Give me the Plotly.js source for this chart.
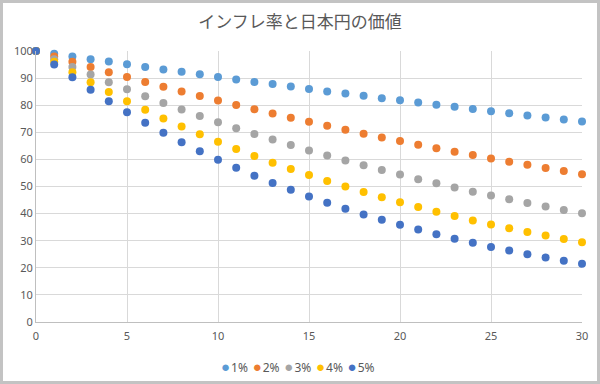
<!DOCTYPE html>
<html><head><meta charset="utf-8">
<script src="https://cdn.plot.ly/plotly-3.0.1.min.js"></script>
<style>
html,body{margin:0;padding:0;background:#c3c3c3;width:600px;height:384px;overflow:hidden}
#chart{position:absolute;left:3px;top:3px;width:594px;height:378px;background:#fff}
</style></head><body>
<div id="chart"></div>
<script>
const years = [0,1,2,3,4,5,6,7,8,9,10,11,12,13,14,15,16,17,18,19,20,21,22,23,24,25,26,27,28,29,30];
const seriesNames = ["1%","2%","3%","4%","5%"];
const r1 = [100,99.0,98.0,97.0,96.1,95.1,94.1,93.2,92.3,91.4,90.4,89.5,88.6,87.8,86.9,86.0,85.1,84.3,83.5,82.6,81.8,81.0,80.2,79.4,78.6,77.8,77.0,76.2,75.5,74.7,74.0];
const r2 = [100,98.0,96.0,94.1,92.2,90.4,88.6,86.8,85.1,83.4,81.7,80.1,78.5,76.9,75.4,73.9,72.4,70.9,69.5,68.1,66.8,65.4,64.1,62.8,61.6,60.3,59.1,58.0,56.8,55.7,54.5];
const r3 = [100,97.0,94.1,91.3,88.5,85.9,83.3,80.8,78.4,76.0,73.7,71.5,69.4,67.3,65.3,63.3,61.4,59.6,57.8,56.1,54.4,52.7,51.2,49.6,48.1,46.7,45.3,43.9,42.6,41.3,40.1];
const r4 = [100,96.0,92.2,88.5,84.9,81.5,78.3,75.1,72.1,69.3,66.5,63.8,61.3,58.8,56.5,54.2,52.0,50.0,48.0,46.0,44.2,42.4,40.7,39.1,37.5,36.0,34.6,33.2,31.9,30.6,29.4];
const r5 = [100,95.0,90.3,85.7,81.5,77.4,73.5,69.8,66.3,63.0,59.9,56.9,54.0,51.3,48.8,46.3,44.0,41.8,39.7,37.7,35.9,34.1,32.4,30.7,29.2,27.7,26.4,25.0,23.8,22.6,21.5];
const allSeries = [r1,r2,r3,r4,r5];
const colors = ["#5B9BD5","#ED7D31","#A5A5A5","#FFC000","#4472C4"];

const traces = allSeries.map((ys,i)=>({
  x: years, y: ys, name: seriesNames[i], type:'scatter', mode:'markers',
  marker:{size:8, color:colors[i]}, cliponaxis:false, showlegend:false
}));

const legendText = seriesNames.map((n,i)=>
  `<span style="color:${colors[i]};font-size:15px">●</span><span style="font-size:4px">\u00a0</span>${n}`
).join('<span style="font-size:9px">\u00a0\u00a0</span>');

const layout = {
  width:594, height:378,
  margin:{l:33, r:15, t:48, b:59},
  paper_bgcolor:'#fff', plot_bgcolor:'#fff',
  font:{family:'"Noto Sans", "Liberation Sans", sans-serif', size:11, color:'#595959'},
  title:{text:'インフレ率と日本円の価値', font:{family:'"Noto Sans CJK JP", sans-serif', size:17, color:'#595959'}, x:0.5, xanchor:'center', y:1-19/378, yanchor:'middle', xref:'container'},
  xaxis:{range:[0,30], dtick:5, tick0:0, showgrid:true, gridcolor:'#d9d9d9', showline:true, linecolor:'#bfbfbf', zeroline:false, ticks:'', ticklen:0, ticklabelstandoff:4, tickfont:{size:11,color:'#595959'}, fixedrange:true},
  yaxis:{range:[0,100], dtick:10, tick0:0, showgrid:true, gridcolor:'#d9d9d9', showline:true, linecolor:'#bfbfbf', zeroline:false, ticks:'', tickfont:{size:11,color:'#595959'}, fixedrange:true},
  showlegend:false,
  annotations:[{
    text: legendText, xref:'paper', yref:'paper', x:(298-36)/546, y:-44/271,
    xanchor:'center', yanchor:'middle', showarrow:false,
    font:{size:12,color:'#595959'}
  }]
};
Plotly.newPlot('chart', traces, layout, {displayModeBar:false, staticPlot:true});
</script>
</body></html>
